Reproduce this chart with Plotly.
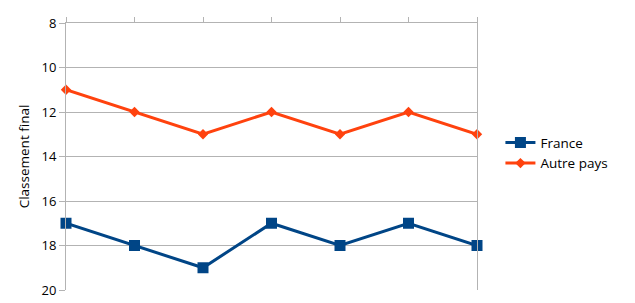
import plotly.graph_objects as go

categories = [1, 2, 3, 4, 5, 6, 7]
france = [17, 18, 19, 17, 18, 17, 18]
autre = [11, 12, 13, 12, 13, 12, 13]
y_ticks = [8, 10, 12, 14, 16, 18, 20]

fig = go.Figure()
fig.add_trace(go.Scatter(
    x=categories, y=france, name="France", mode="lines+markers",
    line=dict(color="#004586", width=3),
    marker=dict(symbol="square", size=11, color="#004586"),
    cliponaxis=False,
))
fig.add_trace(go.Scatter(
    x=categories, y=autre, name="Autre pays", mode="lines+markers",
    line=dict(color="#ff420e", width=3),
    marker=dict(symbol="diamond", size=8, color="#ff420e"),
    cliponaxis=False,
))

fig.update_layout(
    template="none",
    width=635, height=303,
    margin=dict(l=66, r=158, t=23, b=13),
    paper_bgcolor="white", plot_bgcolor="white",
    font=dict(family="Open Sans", size=13, color="#000000"),
    showlegend=True,
    legend=dict(x=1.057, y=0.512, xanchor="left", yanchor="middle",
                font=dict(size=13.5), itemwidth=30, tracegroupgap=2),
    xaxis=dict(
        range=[1, 7], side="top", showticklabels=False, automargin=False,
        tickmode="array", tickvals=categories,
        ticks="outside", ticklen=5, tickcolor="#b3b3b3",
        showgrid=False,
        zeroline=False, showline=True, linecolor="#b3b3b3", linewidth=1,
    ),
    yaxis=dict(
        range=[20, 8], tickmode="array", tickvals=y_ticks, automargin=False,
        ticks="outside", ticklen=6, tickcolor="#b3b3b3",
        showgrid=True, gridcolor="#b3b3b3", gridwidth=1,
        showline=True, linecolor="#b3b3b3", linewidth=1, mirror=True,
        zeroline=False, tickfont=dict(size=13),
        title=dict(text="Classement final", standoff=8, font=dict(size=13.5)),
    ),
)

fig.write_html("out.html")
